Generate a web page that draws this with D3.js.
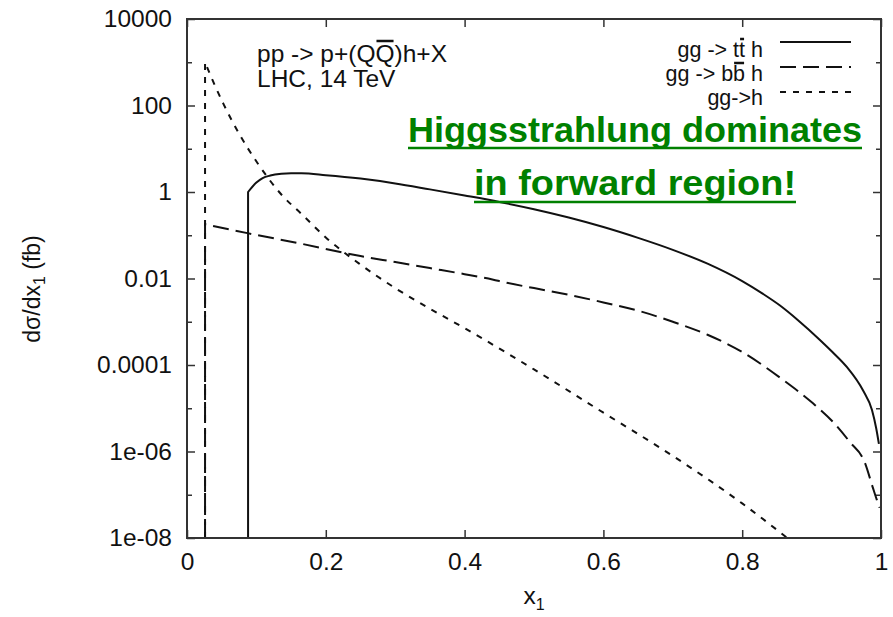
<!DOCTYPE html>
<html>
<head>
<meta charset="utf-8">
<script src="https://cdn.jsdelivr.net/npm/d3@7"></script>
<style>
  body { margin: 0; background: #fff; }
  text { font-family: 'Liberation Sans', Arial, sans-serif; fill: #111; }
</style>
</head>
<body>
<div id="chart"></div>
<script>
// values (x1, d sigma / d x1 in fb)
const xTicks = [0, 0.2, 0.4, 0.6, 0.8, 1]
const xTickLabels = ['0', '0.2', '0.4', '0.6', '0.8', '1']
const yTicks = [1e4, 1e2, 1, 1e-2, 1e-4, 1e-6, 1e-8]
const yTickLabels = ['10000', '100', '1', '0.01', '0.0001', '1e-06', '1e-08']
const yMinorTicks = [1e3, 1e1, 1e-1, 1e-3, 1e-5, 1e-7]

const ttX = [0.088, 0.088, 0.1, 0.109, 0.12, 0.136, 0.15, 0.165, 0.2, 0.25, 0.3, 0.35, 0.4, 0.45, 0.5, 0.55, 0.6, 0.65, 0.7, 0.75, 0.8, 0.83, 0.854, 0.88, 0.912, 0.93, 0.951, 0.974, 0.987, 0.993, 0.997]
const ttY = [1e-8, 1.0, 1.66, 2.1, 2.4, 2.63, 2.7, 2.7, 2.45, 2.04, 1.58, 1.15, 0.83, 0.59, 0.4, 0.257, 0.155, 0.087, 0.046, 0.022, 8.7e-3, 4.4e-3, 2.4e-3, 1.1e-3, 3.8e-4, 2e-4, 8.9e-5, 2.6e-5, 9.1e-6, 3.5e-6, 1.5e-6]

const bbX = [0.026, 0.026, 0.087, 0.166, 0.25, 0.3, 0.35, 0.4, 0.44, 0.46, 0.5, 0.55, 0.6, 0.65, 0.7, 0.75, 0.8, 0.859, 0.902, 0.931, 0.955, 0.977, 0.988, 0.994, 0.998]
const bbY = [1e-8, 0.18, 0.112, 0.063, 0.033, 0.024, 0.0174, 0.0126, 0.0095, 0.008, 6e-3, 4.2e-3, 2.8e-3, 1.8e-3, 1e-3, 5e-4, 2e-4, 4.5e-5, 1.3e-5, 4.8e-6, 1.66e-6, 5.4e-7, 1.5e-7, 7.6e-8, 5e-8]

const hX = [0.026, 0.026, 0.033, 0.04, 0.053, 0.075, 0.102, 0.135, 0.166, 0.2, 0.25, 0.3, 0.35, 0.4, 0.5, 0.6, 0.7, 0.8, 0.865]
const hY = [1e-8, 1000, 537, 295, 105, 22.4, 4.57, 0.91, 0.3, 0.089, 0.021, 6e-3, 2e-3, 7.1e-4, 7.9e-5, 7.9e-6, 7.9e-7, 6.3e-8, 1e-8]

// [before bar, barred letter, after bar]
const legendLabels = [
  ['gg -> t', 't', ' h'],
  ['gg -> b', 'b', ' h'],
  ['gg->h', '', '']
]
const dashes = [null, '16,7', '6,7']

const margin = { top: 19, left: 187, right: 12, bottom: 79 }
const width = 893 - margin.left - margin.right
const height = 617 - margin.top - margin.bottom

const root = d3
  .select('#chart')
  .append('svg')
  .attr('width', 893)
  .attr('height', 617)

const svg = root
  .append('g')
  .attr('transform', 'translate(' + margin.left + ',' + margin.top + ')')

const xScale = d3.scaleLinear().domain([0, 1]).range([0, width])
const yScale = d3.scaleLog().domain([1e-8, 1e4]).range([height, 0])

const fontSize = 24.5

// axes, ticks pointing inwards, mirrored on top and right
svg.append('g')
  .attr('transform', 'translate(0,' + height + ')')
  .call(d3.axisBottom(xScale).tickValues(xTicks).tickFormat((d, i) => xTickLabels[i]).tickSize(-8).tickPadding(15))
  .call(g => g.select('.domain').remove())

svg.append('g')
  .call(d3.axisLeft(yScale).tickValues(yTicks).tickFormat((d, i) => yTickLabels[i]).tickSize(-8).tickPadding(15))
  .call(g => g.select('.domain').remove())

svg.append('g')
  .call(d3.axisTop(xScale).tickValues(xTicks).tickSize(-8).tickFormat(''))
  .call(g => g.select('.domain').remove())

svg.append('g')
  .attr('transform', 'translate(' + width + ',0)')
  .call(d3.axisRight(yScale).tickValues(yTicks).tickSize(-8).tickFormat(''))
  .call(g => g.select('.domain').remove())

svg.append('g')
  .call(d3.axisLeft(yScale).tickValues(yMinorTicks).tickSize(-5).tickFormat(''))
  .call(g => g.select('.domain').remove())

svg.append('g')
  .attr('transform', 'translate(' + width + ',0)')
  .call(d3.axisRight(yScale).tickValues(yMinorTicks).tickSize(-5).tickFormat(''))
  .call(g => g.select('.domain').remove())

svg.selectAll('.tick line').attr('stroke', '#333').attr('stroke-width', 1.5)
svg.selectAll('.tick text')
  .attr('font-size', fontSize)
  .attr('font-family', "'Liberation Sans', Arial, sans-serif")
  .attr('fill', '#111')

// the curves: vertical edge first, then a smooth curve
const smooth = d3
  .line()
  .x(d => xScale(d[0]))
  .y(d => yScale(d[1]))
  .curve(d3.curveMonotoneX)

function curvePath(pts) {
  const p0 = pts[0]
  return 'M' + xScale(p0[0]) + ',' + yScale(p0[1]) + smooth(pts.slice(1)).replace(/^M/, 'L')
}

const series = [d3.zip(ttX, ttY), d3.zip(bbX, bbY), d3.zip(hX, hY)]

svg.selectAll('.curve')
  .data(series)
  .enter()
  .append('path')
  .attr('class', 'curve')
  .attr('d', curvePath)
  .attr('fill', 'none')
  .attr('stroke', '#111')
  .attr('stroke-width', 2)
  .attr('stroke-dasharray', (d, i) => dashes[i])

// frame
svg.append('rect')
  .attr('width', width)
  .attr('height', height)
  .attr('fill', 'none')
  .attr('stroke', '#333')
  .attr('stroke-width', 2)

// bar over one letter of a text
function addBar(textSel, index) {
  const box = textSel.node().getExtentOfChar(index)
  root.append('line')
    .attr('x1', box.x + 1)
    .attr('x2', box.x + box.width - 1)
    .attr('y1', box.y + 1)
    .attr('y2', box.y + 1)
    .attr('stroke', '#111')
    .attr('stroke-width', 2.5)
}

// process label, top left
const proc = root.append('text')
  .attr('x', 257)
  .attr('y', 62)
  .attr('font-size', fontSize)
  .text('pp -> p+(QQ)h+X')
addBar(proc, 10)

root.append('text')
  .attr('x', 257)
  .attr('y', 87)
  .attr('font-size', fontSize)
  .text('LHC, 14 TeV')

// legend
const legendSize = 21.5

legendLabels.forEach((parts, i) => {
  const t = root.append('text')
    .attr('x', 763)
    .attr('y', 57 + i * 24)
    .attr('text-anchor', 'end')
    .attr('font-size', legendSize)
    .text(parts.join(''))
  if (parts[1]) addBar(t, parts[0].length)

  root.append('line')
    .attr('x1', 780)
    .attr('x2', 851)
    .attr('y1', 42 + i * 25)
    .attr('y2', 42 + i * 25)
    .attr('stroke', '#111')
    .attr('stroke-width', 2)
    .attr('stroke-dasharray', dashes[i])
})

// axis titles
const yTitle = root.append('text')
  .attr('transform', 'translate(40,289) rotate(-90)')
  .attr('text-anchor', 'middle')
  .attr('font-size', 23)
yTitle.append('tspan').text('d\u03c3/dx')
yTitle.append('tspan').text('1').attr('font-size', 16).attr('dy', 5)
yTitle.append('tspan').text(' (fb)').attr('dy', -5)

const xTitle = root.append('text')
  .attr('x', 534)
  .attr('y', 604)
  .attr('text-anchor', 'middle')
  .attr('font-size', fontSize)
xTitle.append('tspan').text('x')
xTitle.append('tspan').text('1').attr('font-size', 16).attr('dy', 6)

// green note
const notes = [
  { text: 'Higgsstrahlung dominates', x: 635, y: 141.5, w: 454, u: 148 },
  { text: 'in forward region!', x: 635, y: 195, w: 322, u: 202 }
]

notes.forEach(n => {
  root.append('text')
    .attr('x', n.x)
    .attr('y', n.y)
    .attr('text-anchor', 'middle')
    .attr('font-family', 'Lato, sans-serif')
    .attr('font-weight', 700)
    .attr('font-size', 35)
    .attr('textLength', n.w)
    .attr('lengthAdjust', 'spacingAndGlyphs')
    .style('fill', '#008000')
    .text(n.text)

  root.append('line')
    .attr('x1', n.x - n.w / 2)
    .attr('x2', n.x + n.w / 2)
    .attr('y1', n.u)
    .attr('y2', n.u)
    .attr('stroke', '#008000')
    .attr('stroke-width', 2.5)
})
</script>
</body>
</html>
